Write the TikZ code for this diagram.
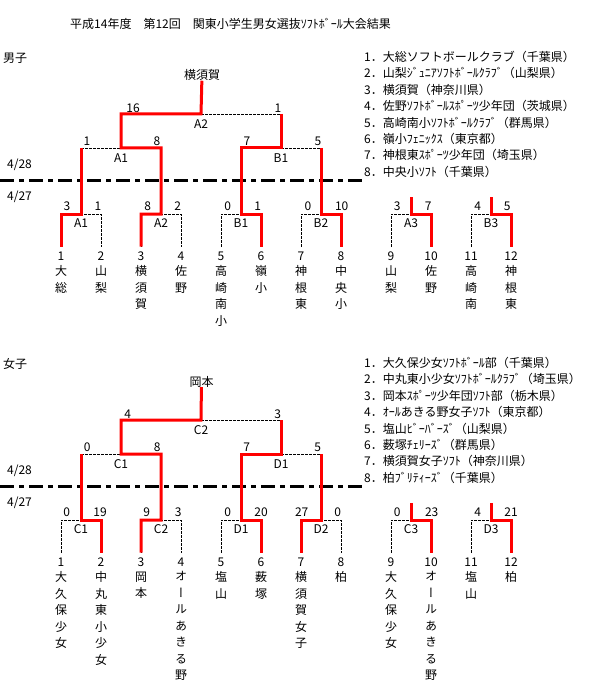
\documentclass[tikz,border=0pt]{standalone}
\usepackage{fontspec}
\setmainfont{Noto Sans CJK JP}
\newfontfamily\vjp[RawFeature=+vert]{Noto Sans CJK JP}
\begin{document}
\begin{tikzpicture}[x=1pt,y=-1pt,
  every node/.style={inner sep=0pt, font=\fontsize{12pt}{14pt}\selectfont},
  winner/.style={draw=red, line width=3pt, line join=miter},
  loser/.style={draw=black, line width=0.9pt, dash pattern=on 2.5pt off 1.5pt},
  dayline/.style={draw=black, line width=2.8pt, dash pattern=on 14pt off 5pt on 5pt off 5pt},
  namecol/.style={anchor=north, align=center, font=\vjp\fontsize{12pt}{16.5pt}\selectfont},
  listline/.style={anchor=west},
  score/.style={},
  match/.style={}]
\useasboundingbox (0,0) rectangle (592,687);
\fill[white] (0,0) rectangle (592,687);

\node[anchor=west] (title) at (70,24) {平成14年度　第12回　関東小学生男女選抜ｿﾌﾄﾎﾞｰﾙ大会結果};

% ---------- coordinates for both sections ----------
\foreach \s/\oy in {m/0,w/306}{
  \foreach \k/\x in {1/61,2/101,3/141,4/181,5/221,6/261,7/301,8/341,9/391,10/431,11/471,12/511}{
    \coordinate (\s-L\k-t) at (\x,214+\oy);
    \coordinate (\s-L\k-b) at (\x,246.7+\oy);
    \node (\s-n\k) at (\x,256+\oy) {\k};
  }
  \foreach \j/\x/\yy in {1/81/148,2/161/148,3/241/148,4/321/148,5/411/197.3,6/491/197.3}{
    \coordinate (\s-G\j) at (\x,214+\oy);
    \coordinate (\s-G\j-u) at (\x,\yy+\oy);
  }
  \coordinate (\s-U1) at (121,148+\oy);
  \coordinate (\s-U1-u) at (121,114+\oy);
  \coordinate (\s-U2) at (281,148+\oy);
  \coordinate (\s-U2-u) at (281,114+\oy);
  \coordinate (\s-T) at (201,114+\oy);
  \coordinate (\s-dl) at (0,180.7+\oy);
  \coordinate (\s-dr) at (362,180.7+\oy);
  \node[anchor=west] (\s-d28) at (7,165+\oy) {4/28};
  \node[anchor=west] (\s-d27) at (7,197+\oy) {4/27};
  \draw[dayline] (\s-dl) -- (\s-dr);
  % dashed skeleton
  \foreach \j/\a/\b in {1/1/2,2/3/4,3/5/6,4/7/8,5/9/10,6/11/12}{
    \draw[loser] (\s-L\a-b) -- (\s-L\a-t) -- (\s-L\b-t) -- (\s-L\b-b);
  }
  \draw[loser] (\s-G1-u) -- (\s-G2-u);
  \draw[loser] (\s-G3-u) -- (\s-G4-u);
  \draw[loser] (\s-U1-u) -- (\s-U2-u);
  % match labels
  \node (\s-up-top) at (201,124+\oy) {};
}

% ---------- section headers ----------
\node[anchor=west] (boys) at (3,58) {男子};
\node[anchor=west] (girls) at (3,364) {女子};
\node (m-champ) at (202,75) {横須賀};
\node (w-champ) at (201.5,381.5) {岡本};

% ---------- boys match labels ----------
\node[match] (m-A2u) at (201,124) {A2};
\node[match] (m-A1u) at (121,158) {A1};
\node[match] (m-B1u) at (281,158) {B1};
\foreach \j/\x/\t in {1/81/A1,2/161/A2,3/241/B1,4/321/B2,5/411/A3,6/491/B3}{
  \node[match] (m-ml\j) at (\x,223) {\t};
}
% ---------- girls match labels ----------
\node[match] (w-C2u) at (201,430) {C2};
\node[match] (w-C1u) at (121,464) {C1};
\node[match] (w-D1u) at (281,464) {D1};
\foreach \j/\x/\t in {1/81/C1,2/161/C2,3/241/D1,4/321/D2,5/411/C3,6/491/D3}{
  \node[match] (w-ml\j) at (\x,529) {\t};
}

% ---------- scores ----------
\foreach \i/\x/\y/\t in {1/133/108/16,2/278/108/1,3/87/141/1,4/157/141/8,5/247/141/7,6/318/141/5,
  7/67/206/3,8/98/206/1,9/147.7/206/8,10/177.7/206/2,11/227.7/206/0,12/257.7/206/1,
  13/308/206/0,14/341.7/206/10,15/397.3/206/3,16/428.3/206/7,17/477.7/206/4,18/507.3/206/5}{
  \node[score] (m-s\i) at (\x,\y) {\t};
}
\foreach \i/\x/\y/\t in {1/127.7/414/4,2/277.7/414/3,3/87.3/447/0,4/157.3/447/8,5/246.7/447/7,6/317.7/447/5,
  7/66.7/512/0,8/100/512/19,9/146.7/512/9,10/178.3/512/3,11/227.7/512/0,12/261/512/20,
  13/301.7/512/27,14/337.7/512/0,15/397.3/512/0,16/431.7/512/23,17/477.7/512/4,18/511/512/21}{
  \node[score] (w-s\i) at (\x,\y) {\t};
}

% ---------- red winner paths: boys ----------
\draw[winner] (m-champ) -- (m-T) -- (m-U1-u) -- (m-U1) -- (m-G2-u) -- (m-G2) -- (m-L3-t) -- (m-L3-b);
\draw[winner] (m-U2-u) -- (m-U2) -- (m-G3-u) -- (m-G3) -- (m-L6-t) -- (m-L6-b);
\draw[winner] (m-G1-u) -- (m-G1) -- (m-L1-t) -- (m-L1-b);
\draw[winner] (m-G4-u) -- (m-G4) -- (m-L8-t) -- (m-L8-b);
\draw[winner] (m-G5-u) -- (m-G5) -- (m-L10-t) -- (m-L10-b);
\draw[winner] (m-G6-u) -- (m-G6) -- (m-L12-t) -- (m-L12-b);
% ---------- red winner paths: girls ----------
\draw[winner] (w-champ) -- (w-T) -- (w-U1-u) -- (w-U1) -- (w-G2-u) -- (w-G2) -- (w-L3-t) -- (w-L3-b);
\draw[winner] (w-U2-u) -- (w-U2) -- (w-G3-u) -- (w-G3) -- (w-L6-t) -- (w-L6-b);
\draw[winner] (w-G1-u) -- (w-G1) -- (w-L2-t) -- (w-L2-b);
\draw[winner] (w-G4-u) -- (w-G4) -- (w-L7-t) -- (w-L7-b);
\draw[winner] (w-G5-u) -- (w-G5) -- (w-L10-t) -- (w-L10-b);
\draw[winner] (w-G6-u) -- (w-G6) -- (w-L12-t) -- (w-L12-b);

% ---------- team names (vertical) ----------
\foreach \k/\x/\t in {1/61/{大\\総},2/101/{山\\梨},3/141/{横\\須\\賀},4/181/{佐\\野},5/221/{高\\崎\\南\\小},6/261/{嶺\\小},
  7/301/{神\\根\\東},8/341/{中\\央\\小},9/391/{山\\梨},10/431/{佐\\野},11/471/{高\\崎\\南},12/511/{神\\根\\東}}{
  \node[namecol] (m-name\k) at (\x,265.5) {\t};
}
\foreach \k/\x/\t in {1/61/{大\\久\\保\\少\\女},2/101/{中\\丸\\東\\小\\少\\女},3/141/{岡\\本},4/181/{オ\\ー\\ル\\あ\\き\\る\\野},
  5/221/{塩\\山},6/261/{薮\\塚},7/301/{横\\須\\賀\\女\\子},8/341/{柏},9/391/{大\\久\\保\\少\\女},
  10/431/{オ\\ー\\ル\\あ\\き\\る\\野},11/471/{塩\\山},12/511/{柏}}{
  \node[namecol] (w-name\k) at (\x,571.5) {\t};
}

% ---------- final standings ----------
\foreach \i/\t in {1/{1．大総ソフトボールクラブ（千葉県）},2/{2．山梨ｼﾞｭﾆｱｿﾌﾄﾎﾞｰﾙｸﾗﾌﾞ（山梨県）},3/{3．横須賀（神奈川県）},
  4/{4．佐野ｿﾌﾄﾎﾞｰﾙｽﾎﾟｰﾂ少年団（茨城県）},5/{5．高崎南小ｿﾌﾄﾎﾞｰﾙｸﾗﾌﾞ（群馬県）},6/{6．嶺小ﾌｪﾆｯｸｽ（東京都）},
  7/{7．神根東ｽﾎﾟｰﾂ少年団（埼玉県）},8/{8．中央小ｿﾌﾄ（千葉県）}}{
  \node[listline] (m-rank\i) at (364,{57+16.4*(\i-1)}) {\t};
}
\foreach \i/\t in {1/{1．大久保少女ｿﾌﾄﾎﾞｰﾙ部（千葉県）},2/{2．中丸東小少女ｿﾌﾄﾎﾞｰﾙｸﾗﾌﾞ（埼玉県）},3/{3．岡本ｽﾎﾟｰﾂ少年団ｿﾌﾄ部（栃木県）},
  4/{4．ｵｰﾙあきる野女子ｿﾌﾄ（東京都）},5/{5．塩山ﾋﾞｰﾊﾞｰｽﾞ（山梨県）},6/{6．薮塚ﾁｪﾘｰｽﾞ（群馬県）},
  7/{7．横須賀女子ｿﾌﾄ（神奈川県）},8/{8．柏ﾌﾞﾘﾃｨｰｽﾞ（千葉県）}}{
  \node[listline] (w-rank\i) at (364,{363+16.4*(\i-1)}) {\t};
}
\end{tikzpicture}
\end{document}
